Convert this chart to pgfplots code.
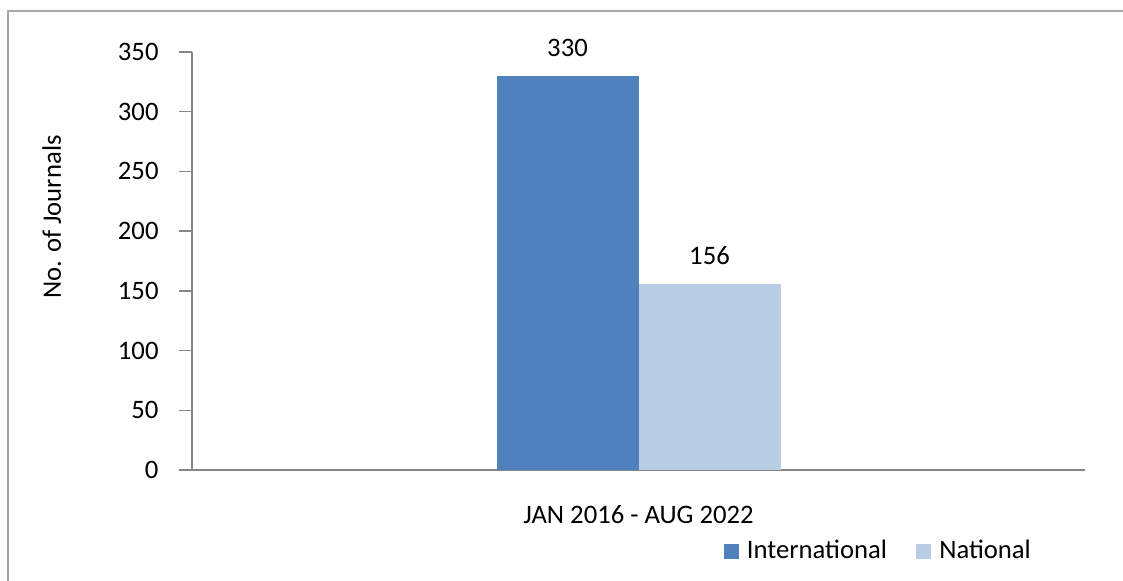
\documentclass[border=0pt]{standalone}
\usepackage{pgfplots}
\pgfplotsset{compat=1.18}
\usepackage{fontspec}
\setmainfont{Carlito}
\definecolor{intl}{HTML}{4F81BD}
\definecolor{natl}{HTML}{B9CDE5}
\definecolor{axgray}{HTML}{868686}
\definecolor{bordergray}{HTML}{A6A6A6}
\begin{document}
\fontsize{20}{24}\selectfont
\begin{tikzpicture}
\useasboundingbox (0,0) rectangle (842.25pt,435.75pt);
\draw[bordergray,line width=1.5pt] (6pt,-2pt) -- (6pt,427.5pt) -- (845pt,427.5pt);
\begin{axis}[
  at={(144pt,83.25pt)}, anchor=south west, scale only axis,
  width=669.75pt, height=313.5pt,
  ybar=0pt, bar width=106.5pt,
  ymin=0, ymax=350, ytick={0,50,...,350},
  xmin=-1, xmax=1, xtick={0}, xticklabels={JAN 2016 - AUG 2022},
  axis lines*=left,
  axis line style={axgray,line width=1pt},
  tick align=outside,
  major tick length=9.75pt,
  y tick style={axgray,line width=1pt},
  x tick style={draw=none},
  /pgf/number format/assume math mode=true,
  ticklabel style={font=\fontsize{20}{24}\selectfont},
  yticklabel style={anchor=east, xshift=-8.5pt},
  xticklabel style={anchor=base, yshift=-30pt},
  ylabel={No. of Journals},
  ylabel style={at={(axis description cs:-0.157,0.605)}, anchor=center, font=\fontsize{20}{24}\selectfont},
  nodes near coords,
  nodes near coords style={anchor=base, yshift=14.5pt, font=\fontsize{20}{24}\selectfont, black},
  legend columns=2,
  legend style={draw=none, at={(axis description cs:0.769,-0.195)}, anchor=center,
    font=\fontsize{20}{24}\selectfont,
    /tikz/every odd column/.append style={column sep=4pt},
    /tikz/every even column/.append style={column sep=20pt}},
  legend image code/.code={\fill[#1,draw=none] (0pt,-5.6pt) rectangle (11.25pt,5.6pt);},
]
\addplot[fill=intl,draw=none] coordinates {(0,330)};
\addplot[fill=natl,draw=none] coordinates {(0,156)};
\legend{International,National}
\end{axis}
\end{tikzpicture}
\end{document}
